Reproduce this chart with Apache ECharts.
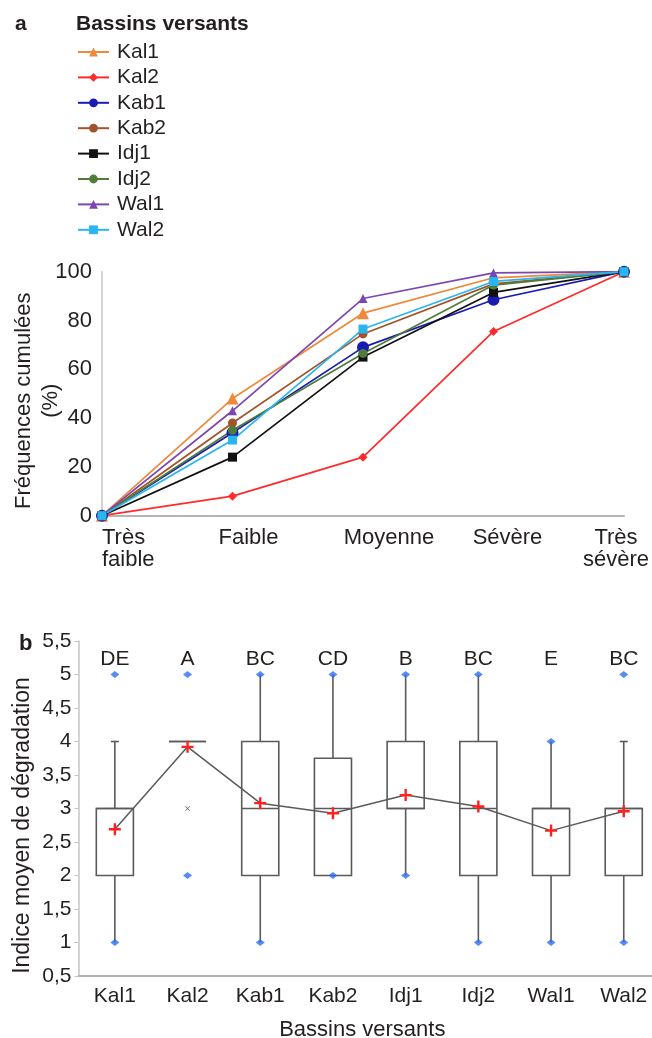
<!DOCTYPE html>
<html>
<head>
<meta charset="utf-8">
<script src="https://cdn.jsdelivr.net/npm/echarts/dist/echarts.min.js"></script>
<style>
  html, body { margin: 0; background: #fff; }
  #chart { width: 652px; height: 1038px; }
</style>
</head>
<body>
<div id="chart"></div>
<script>
// --- panel a : cumulated frequencies (%) by degradation class
const classes = ['Très faible', 'Faible', 'Moyenne', 'Sévère', 'Très sévère'];
const kal1 = [0, 48, 83, 97.5, 100];
const kal2 = [0, 8, 24, 75.5, 100];
const kab1 = [0, 34, 69, 88.5, 100];
const kab2 = [0, 38, 74.5, 95, 100];
const idj1 = [0, 24, 65, 91.5, 100];
const idj2 = [0, 35, 66.5, 94.5, 100];
const wal1 = [0, 43, 89, 99.5, 100];
const wal2 = [0, 31, 76.5, 96, 100];
const freqTicks = [0, 20, 40, 60, 80, 100];

// --- panel b : mean degradation index by catchment
const basins = ['Kal1', 'Kal2', 'Kab1', 'Kab2', 'Idj1', 'Idj2', 'Wal1', 'Wal2'];
const whiskerLow = [1, 4, 1, 2, 2, 1, 1, 1];
const q1 = [2, 4, 2, 2, 3, 2, 2, 2];
const median = [3, 4, 3, 3, 3, 3, 3, 3];
const q3 = [3, 4, 4, 3.75, 4, 4, 3, 3];
const whiskerHigh = [4, 4, 5, 5, 5, 5, 4, 4];
const minVals = [1, 2, 1, 2, 2, 1, 1, 1];
const maxVals = [5, 5, 5, 5, 5, 5, 4, 5];
const means = [2.69, 3.92, 3.08, 2.93, 3.2, 3.03, 2.67, 2.96];
const outliers = [[1, 3]];
const groups = ['DE', 'A', 'BC', 'CD', 'B', 'BC', 'E', 'BC'];

const FONT = "'Liberation Sans', Arial, sans-serif";
const TXT = '#231f20';

const lineLooks = [
  { name: 'Kal1', data: kal1, color: '#f0883a', symbol: 'triangle', size: 12 },
  { name: 'Kal2', data: kal2, color: '#ff2a2a', symbol: 'diamond', size: 9 },
  { name: 'Kab1', data: kab1, color: '#1a1ab4', symbol: 'circle', size: 12 },
  { name: 'Kab2', data: kab2, color: '#a4522a', symbol: 'circle', size: 9 },
  { name: 'Idj1', data: idj1, color: '#111111', symbol: 'rect', size: 9 },
  { name: 'Idj2', data: idj2, color: '#4f7d3c', symbol: 'circle', size: 9 },
  { name: 'Wal1', data: wal1, color: '#7c46b2', symbol: 'triangle', size: 9 },
  { name: 'Wal2', data: wal2, color: '#29b5f0', symbol: 'rect', size: 9 }
];

// per-label nudges so the class names sit like in the original figure
const classLabelStyle = [
  { align: 'left' },
  { padding: [0, 0, 0, 32] },
  { padding: [0, 0, 0, 52] },
  { padding: [0, 0, 0, 28] },
  { padding: [0, 16, 0, 0] }
];

const plusPath = 'path://M4,0H6V4H10V6H6V10H4V6H0V4H4Z';
const crossPath = 'path://M0,1L1,0L5,4L9,0L10,1L6,5L10,9L9,10L5,6L1,10L0,9L4,5Z';

const boxData = basins.map((b, i) => [i, whiskerLow[i], q1[i], median[i], q3[i], whiskerHigh[i], maxVals[i], minVals[i]]);

const renderBox = (params, api) => {
  const i = api.value(0);
  const lo = api.value(1), a = api.value(2), med = api.value(3), b = api.value(4), hi = api.value(5);
  const mx = api.value(6), mn = api.value(7);
  const x = api.coord([i, a])[0];
  const half = api.size([1, 0])[0] * 0.255;
  const y = v => api.coord([i, v])[1];
  const style = { stroke: '#5a5a5a', lineWidth: 1.6, fill: null };
  const kids = [
    { type: 'line', shape: { x1: x, y1: y(lo), x2: x, y2: y(a) }, style },
    { type: 'line', shape: { x1: x, y1: y(b), x2: x, y2: y(hi) }, style },
    { type: 'rect', shape: { x: x - half, y: y(b), width: half * 2, height: y(a) - y(b) }, style },
    { type: 'line', shape: { x1: x - half, y1: y(med), x2: x + half, y2: y(med) }, style }
  ];
  if (hi !== mx && hi > b) kids.push({ type: 'line', shape: { x1: x - 4, y1: y(hi), x2: x + 4, y2: y(hi) }, style });
  if (lo !== mn && lo < a) kids.push({ type: 'line', shape: { x1: x - 4, y1: y(lo), x2: x + 4, y2: y(lo) }, style });
  return { type: 'group', children: kids };
};

const chart = echarts.init(document.getElementById('chart'));

chart.setOption({
  animation: false,
  textStyle: { fontFamily: FONT, color: TXT },
  title: [
    { text: 'a', left: 10, top: 9, textStyle: { fontSize: 21, fontWeight: 'bold', color: TXT, fontFamily: FONT } },
    { text: 'Bassins versants', left: 71, top: 9, textStyle: { fontSize: 21, fontWeight: 'bold', color: TXT, fontFamily: FONT } },
    { text: 'b', left: 14, top: 628, textStyle: { fontSize: 22, fontWeight: 'bold', color: TXT, fontFamily: FONT } }
  ],
  legend: {
    orient: 'vertical',
    left: 77,
    top: 41,
    padding: 0,
    itemWidth: 31,
    itemHeight: 11,
    itemGap: 3.4,
    data: lineLooks.map(s => s.name),
    textStyle: { fontSize: 21, lineHeight: 22, color: TXT, fontFamily: FONT, padding: [0, 0, 0, 3] }
  },
  grid: [
    { left: 102, top: 271.7, width: 522, height: 244, outerBoundsMode: 'none' },
    { left: 78.5, top: 641, width: 581.6, height: 335, outerBoundsMode: 'none' }
  ],
  xAxis: [
    {
      type: 'category',
      gridIndex: 0,
      boundaryGap: false,
      data: classes.map((c, i) => ({ value: c, textStyle: classLabelStyle[i] })),
      axisLine: { lineStyle: { color: '#b4b4b4', width: 2 } },
      axisTick: { show: false },
      axisLabel: {
        interval: 0,
        margin: 11,
        fontSize: 22,
        lineHeight: 22,
        color: TXT,
        formatter: v => v.replace('Très ', 'Très\n')
      }
    },
    {
      type: 'category',
      gridIndex: 1,
      data: basins,
      name: 'Bassins versants',
      nameLocation: 'middle',
      nameGap: 43,
      nameMoveOverlap: false,
      nameTextStyle: { fontSize: 22, color: TXT, padding: [0, 14, 0, 0] },
      axisLine: { lineStyle: { color: '#b4b4b4', width: 2 } },
      axisTick: { show: false },
      axisLabel: { interval: 0, margin: 10, fontSize: 21, color: TXT }
    },
    {
      type: 'category',
      gridIndex: 1,
      position: 'top',
      data: groups,
      axisLine: { show: false },
      axisTick: { show: false },
      axisLabel: { inside: true, interval: 0, margin: 8, fontSize: 21, color: TXT }
    }
  ],
  yAxis: [
    {
      type: 'value',
      gridIndex: 0,
      min: 0,
      max: 100,
      interval: 20,
      name: 'Fréquences cumulées\n(%)',
      nameLocation: 'middle',
      nameRotate: 90,
      nameGap: 38,
      nameMoveOverlap: false,
      nameTextStyle: { fontSize: 22, lineHeight: 27, color: TXT, padding: [0, 14, 0, 0] },
      axisLine: { show: true, lineStyle: { color: '#c4c4c4', width: 1.5 } },
      axisTick: { show: false },
      splitLine: { show: false },
      axisLabel: {
        margin: 10,
        fontSize: 22,
        color: TXT,
        formatter: v => (freqTicks.includes(v) ? String(v) : '')
      }
    },
    {
      type: 'value',
      gridIndex: 1,
      min: 0.5,
      max: 5.5,
      interval: 0.5,
      name: 'Indice moyen de dégradation',
      nameLocation: 'middle',
      nameRotate: 90,
      nameGap: 44,
      nameMoveOverlap: false,
      nameTextStyle: { fontSize: 23, color: TXT, padding: [0, 34, 0, 0] },
      axisLine: { show: true, lineStyle: { color: '#c4c4c4', width: 1.5 } },
      axisTick: { show: true, length: 4, lineStyle: { color: '#c4c4c4' } },
      splitLine: { show: false },
      axisLabel: {
        margin: 7,
        fontSize: 21,
        color: TXT,
        formatter: v => String(v).replace('.', ',')
      }
    }
  ],
  series: [
    ...lineLooks.map(s => ({
      name: s.name,
      type: 'line',
      xAxisIndex: 0,
      yAxisIndex: 0,
      data: s.data,
      symbol: s.symbol,
      symbolSize: s.size,
      showAllSymbol: true,
      color: s.color,
      lineStyle: { color: s.color, width: 1.7 },
      itemStyle: { color: s.color }
    })),
    {
      name: 'box',
      type: 'custom',
      xAxisIndex: 1,
      yAxisIndex: 1,
      data: boxData,
      encode: { x: 0, y: [1, 2, 3, 4, 5] },
      renderItem: renderBox,
      z: 2
    },
    {
      name: 'extremes',
      type: 'scatter',
      xAxisIndex: 1,
      yAxisIndex: 1,
      symbol: 'diamond',
      symbolSize: [9, 7],
      itemStyle: { color: '#2e6ff2' },
      data: basins.map((b, i) => [i, minVals[i]]).concat(basins.map((b, i) => [i, maxVals[i]])),
      z: 3
    },
    {
      name: 'outlier',
      type: 'scatter',
      xAxisIndex: 1,
      yAxisIndex: 1,
      symbol: crossPath,
      symbolSize: 5,
      itemStyle: { color: '#444' },
      data: outliers,
      z: 3
    },
    {
      name: 'mean',
      type: 'line',
      xAxisIndex: 1,
      yAxisIndex: 1,
      data: means,
      symbol: plusPath,
      symbolSize: 12,
      showAllSymbol: true,
      itemStyle: { color: '#ff2020' },
      lineStyle: { color: '#5a5a5a', width: 1.5 },
      z: 4
    }
  ]
});
</script>
</body>
</html>
